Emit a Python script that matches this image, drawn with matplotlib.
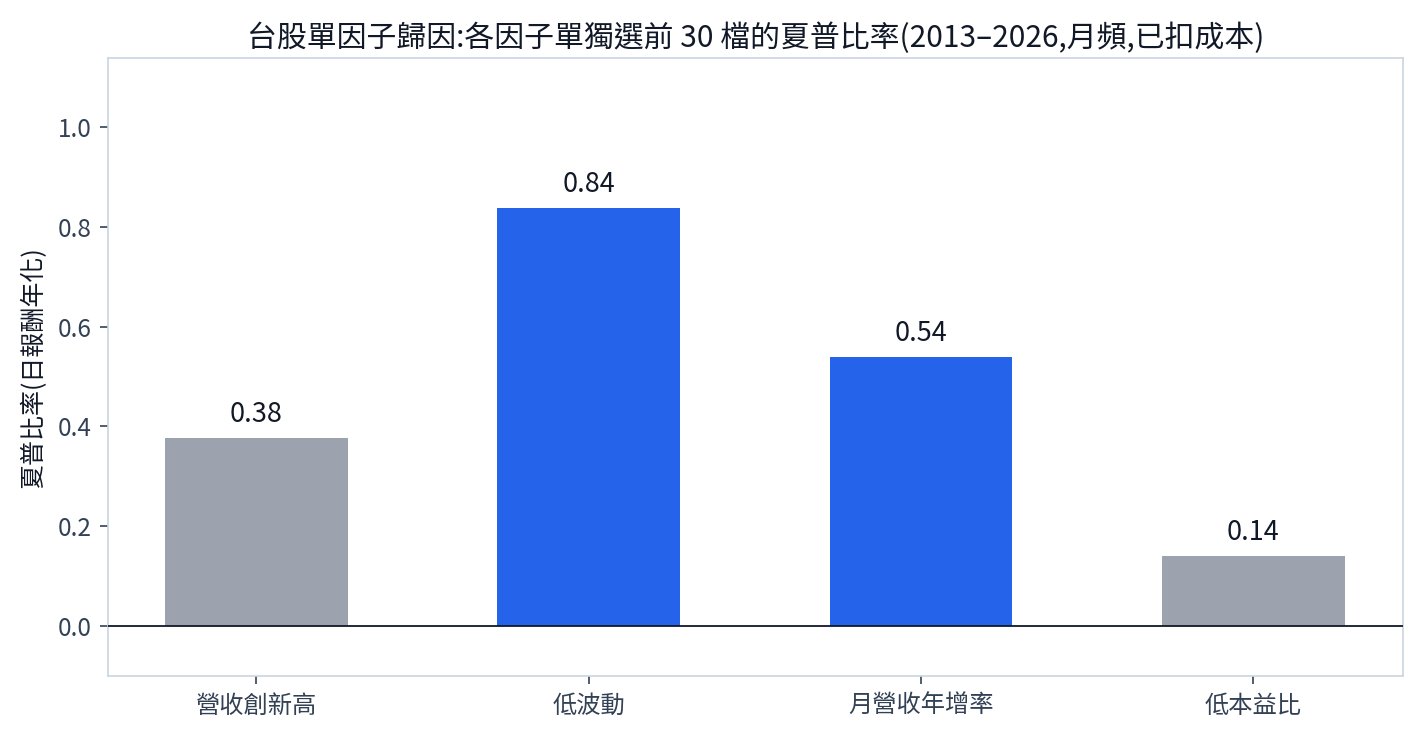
import matplotlib
matplotlib.use("Agg")
import matplotlib.pyplot as plt

plt.rcParams['font.family'] = ['Noto Sans CJK TC', 'DejaVu Sans']

categories = ["營收創新高", "低波動", "月營收年增率", "低本益比"]
sharpe = [0.376, 0.838, 0.540, 0.141]
labels = ["0.38", "0.84", "0.54", "0.14"]
colors = ["#9CA3AF", "#2563EB", "#2563EB", "#9CA3AF"]

fig = plt.figure(figsize=(14.21, 7.37), dpi=100)
ax = fig.add_axes([108/1421, 1-676/737, (1403-108)/1421, (676-58)/737])

x = list(range(len(categories)))
bars = ax.bar(x, sharpe, width=0.55, color=colors, zorder=2)
for xi, v, t in zip(x, sharpe, labels):
    ax.text(xi, v + 0.02, t, ha='center', va='bottom', fontsize=19.5, color='#111827')

ax.axhline(0, color='#111827', lw=1.3, zorder=3)
ax.set_xlim(-0.446, 3.45)
ax.set_ylim(-0.1, 1.138)
ax.set_xticks(x)
ax.set_xticklabels(categories)
ax.set_yticks([0.0, 0.2, 0.4, 0.6, 0.8, 1.0])
ax.set_yticklabels([f"{v:.1f}" for v in [0.0, 0.2, 0.4, 0.6, 0.8, 1.0]])
ax.tick_params(axis='both', colors='#334155', labelsize=17.5, length=6, width=1.2, pad=6)
for s in ax.spines.values():
    s.set_color('#CBD5E1')
    s.set_linewidth(1.2)
ax.set_ylabel("夏普比率(日報酬年化)", fontsize=18, color='#111827', labelpad=8)
ax.set_title("台股單因子歸因:各因子單獨選前 30 檔的夏普比率(2013–2026,月頻,已扣成本)",
             fontsize=21.5, color='#111827', pad=8)

fig.savefig("out.png", dpi=100)
